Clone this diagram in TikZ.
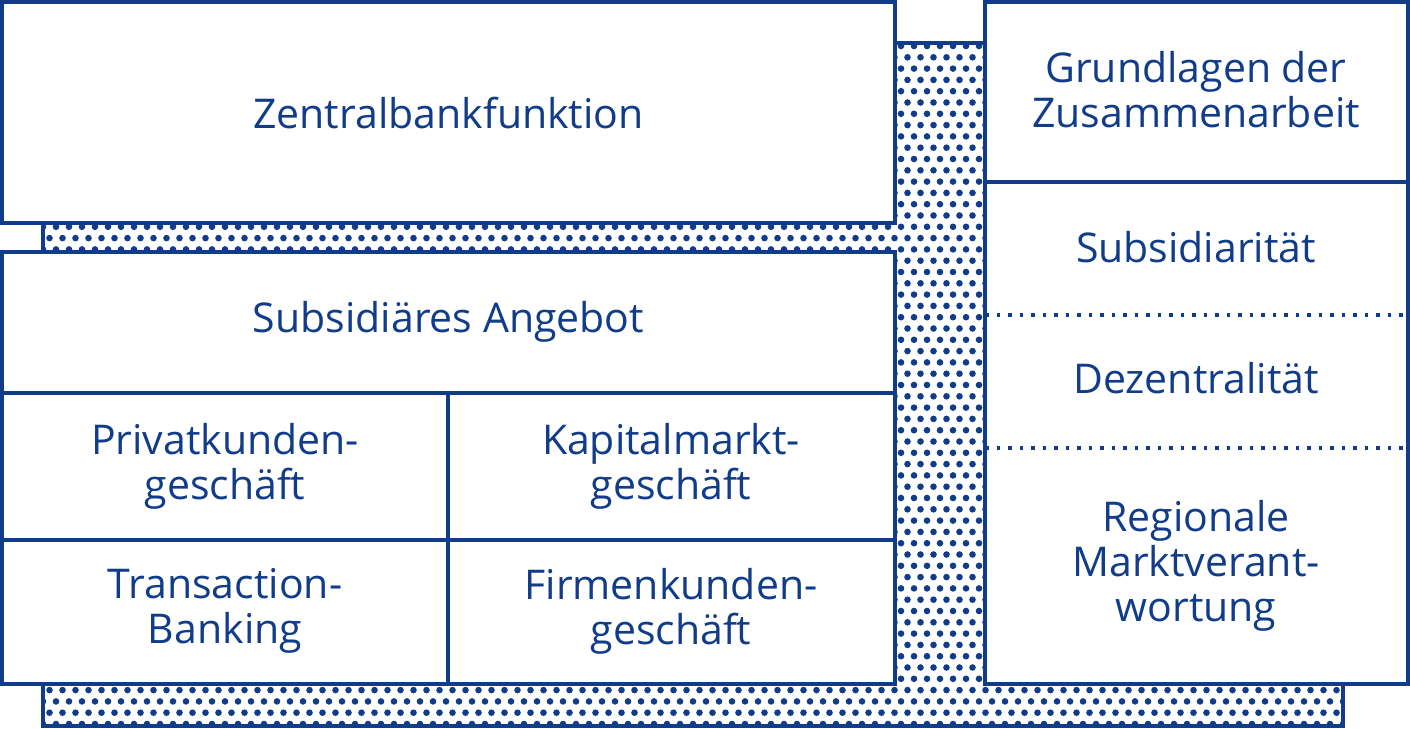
\documentclass[tikz,border=0pt]{standalone}
\usepackage{fontspec}
\setmainfont{Open Sans}
\definecolor{bl}{HTML}{103C8A}
\begin{document}
\begin{tikzpicture}[x=1pt,y=-1pt,
  box/.style={draw=bl,line width=3.5pt,fill=white},
  lbl/.style={text=bl,font=\fontsize{41}{45}\selectfont,align=center}]
\useasboundingbox (0,0) rectangle (1410,728);
% dotted background
\begin{scope}
\clip (43,43) rectangle (1343,726);
\foreach \j in {0,...,60}{
  \pgfmathsetmacro{\off}{mod(\j,2)*6.5}
  \foreach \i in {0,...,101}{
    \fill[bl] (43+\off+\i*13, 46+\j*11.3) circle (3.3);
  }}
\end{scope}
\draw[bl,line width=3.5pt] (43,43) rectangle (1343,726);
% boxes
\draw[box] (2,2) rectangle (895,223);
\node[lbl] (zt) at (448.5,113) {Zentralbankfunktion};
\draw[box] (2,252) rectangle (895,393);
\node[lbl] (sa) at (448.5,322) {Subsidiäres Angebot};
\draw[box] (2,393) rectangle (448,540);
\node[lbl] (pk) at (225,466) {Privatkunden-\\geschäft};
\draw[box] (448,393) rectangle (895,540);
\node[lbl] (km) at (671,466) {Kapitalmarkt-\\geschäft};
\draw[box] (2,540) rectangle (448,684);
\node[lbl] (tb) at (225,611) {Transaction-\\Banking};
\draw[box] (448,540) rectangle (895,684);
\node[lbl] (fk) at (671,611) {Firmenkunden-\\geschäft};
\draw[box] (985,2) rectangle (1408,684);
\draw[bl,line width=3.5pt] (985,182) -- (1408,182);
\draw[bl,line width=3.5pt,dash pattern=on 3.5pt off 8pt] (985,315) -- (1408,315);
\draw[bl,line width=3.5pt,dash pattern=on 3.5pt off 8pt] (985,448) -- (1408,448);
\node[lbl] (gz) at (1196,90) {Grundlagen der\\Zusammenarbeit};
\node[lbl] (su) at (1196,247) {Subsidiarität};
\node[lbl] (dz) at (1196,378) {Dezentralität};
\node[lbl] (rm) at (1196,566) {Regionale\\Marktverant-\\wortung};
\end{tikzpicture}
\end{document}
